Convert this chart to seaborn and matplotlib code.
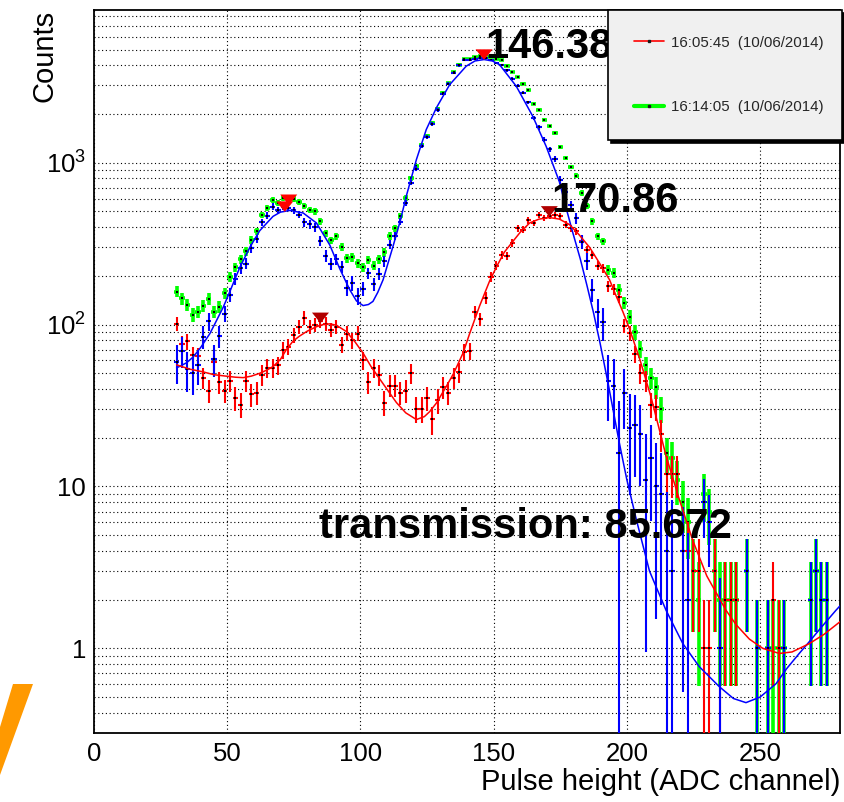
import numpy as np
import pandas as pd
import matplotlib
matplotlib.use("Agg")
import matplotlib.pyplot as plt
import matplotlib.ticker as mticker
from matplotlib.lines import Line2D
from matplotlib.patches import Polygon
import seaborn as sns

# ---------------- data ----------------
channel = np.arange(31, 280, 2)

counts_160545 = np.array([
    101, 76, 79, 65, 64, 47, 39, 59, 44, 39,
    45, 35, 32, 45, 37, 38, 49, 54, 54, 56,
    70, 73, 86, 97, 110, 97, 100, 105, 101, 93,
    97, 75, 88, 80, 88, 60, 44, 54, 49, 33,
    42, 42, 38, 39, 50, 30, 30, 35, 26, 34,
    41, 38, 47, 51, 68, 69, 120, 108, 146, 196,
    231, 270, 266, 321, 394, 385, 440, 424, 477, 455,
    470, 477, 466, 414, 394, 376, 326, 290, 270, 231,
    223, 173, 166, 148, 98, 89, 66, 50, 45, 32,
    31, 21, 12, 12, 12, 4, 4, 3, 3, 1,
    1, 3, 1, 2, 2, 2, 0, 0, 0, 0,
    0, 0, 2, 1, 0, 0, 0, 0, 0, 0,
    0, 0, 0, 0, 0], dtype=float)

counts_161405 = np.array([
    160, 145, 132, 115, 120, 131, 144, 120, 129, 156,
    198, 226, 254, 283, 334, 376, 477, 525, 590, 563,
    605, 600, 595, 575, 537, 513, 500, 434, 367, 331,
    350, 303, 257, 260, 239, 226, 251, 231, 254, 279,
    354, 394, 470, 605, 804, 949, 1291, 1469, 1761, 2150,
    2700, 3112, 3617, 4035, 4376, 4376, 4480, 4550, 4600, 4500,
    4376, 4300, 3980, 3617, 3377, 3083, 2800, 2317, 2128, 1845,
    1679, 1527, 1250, 1069, 940, 831, 650, 537, 434, 350,
    326, 218, 208, 164, 136, 112, 90, 71, 56, 47,
    41, 30, 16, 15, 11, 8, 6, 3, 2, 9,
    7, 3, 2, 2, 2, 2, 0, 3, 0, 1,
    0, 1, 1, 1, 1, 0, 0, 0, 0, 2,
    3, 2, 2, 0, 0], dtype=float)

diff_fit_x = [31, 34.7, 37.2, 40, 43.5, 46, 48.5, 51, 54.7, 58.5,
              62.2, 67.2, 70, 73.5, 78.5, 83.5, 88.5, 92.2, 96, 98.5,
              101, 103, 104.7, 106.5, 108.5, 112.2, 115, 117.2, 121, 124.7,
              128.5, 133.5, 139.7, 143, 146.4, 149.5, 152.2, 158.5, 164.7, 169.7,
              174.7, 177, 179.7, 182.5, 185, 187.5, 190, 193, 197.2, 200, 203.5,
              208.5, 214.7, 221, 227.2, 234.7, 240, 244.7, 250, 256, 260,
              264.7, 268.5, 273, 278.5, 280]
diff_fit_y = [54, 58, 63, 72, 88, 106, 128, 160, 225, 300,
              380, 466, 495, 507, 489, 424, 310, 222, 164, 140,
              131, 133, 139, 158, 189, 303, 440, 620, 1044, 1600,
              2180, 3034, 3945, 4250, 4335, 4250, 4035, 2965, 1931, 1262,
              760, 540, 370, 255, 175, 118, 76, 43, 18.5, 11, 6.3,
              3.0, 1.72, 1.07, 0.77, 0.58, 0.49, 0.462, 0.50, 0.605, 0.75,
              0.93, 1.10, 1.35, 1.72, 1.83]

run1_fit_x = [31, 36, 41, 45, 49.7, 53, 56, 59, 62.2, 65,
              67.2, 70, 72.2, 74.7, 77.2, 80, 83.5, 86, 88.5, 91,
              94.7, 98, 101, 104, 107.5, 111, 113.5, 117, 121, 124,
              126, 128.5, 132.2, 135, 138.5, 141, 144.7, 148.5, 151, 154,
              157.2, 160, 163.5, 167, 171, 174.7, 178.5, 182, 186, 189.7,
              193.5, 196, 198.5, 201, 205, 209, 214.7, 219.5, 224.7, 230,
              237.2, 241, 246, 251, 257.2, 262, 268.5, 274, 280]
run1_fit_y = [56.4, 53, 51, 49, 48, 47.3, 47, 48, 50, 52.5,
              55, 61, 70, 79, 85, 91, 97, 100, 101, 99,
              90.6, 78, 66.6, 55, 45.5, 37.7, 33, 28.5, 25.9, 27,
              29, 32.7, 41.4, 50, 66.6, 88, 130, 186, 226, 280,
              326, 372, 424, 448, 458, 448, 414, 360, 300, 240,
              189, 150, 120, 94, 60, 36, 15.5, 8.5, 4.66, 2.8,
              1.72, 1.4, 1.14, 1.0, 0.93, 0.95, 1.07, 1.22, 1.46]

peak_x = [73.1, 71.6, 146.4, 85.0, 170.9]
peak_y = [590, 535, 4650, 110, 500]
peak_kind = ["run2", "run2", "run2", "run1", "run1"]

peak_text = ["146.38", "170.86"]
peak_text_x = [147.0, 171.5]
peak_text_y = [4436, 496]
transmission_text = "transmission: 85.672"
transmission_pos = (84.4, 4.81)

legend_labels = ["16:05:45  (10/06/2014)", "16:14:05  (10/06/2014)"]
xtick_values = [0, 50, 100, 150, 200, 250]
ytick_values = [1, 10, 100, 1000]
ytick_labels = ["1", "10", r"$10^{2}$", r"$10^{3}$"]
x_label = "Pulse height (ADC channel)"
y_label = "Counts"

difference = counts_161405 - counts_160545
err_run1 = np.sqrt(counts_160545)
err_run2 = np.sqrt(counts_161405)
err_diff = np.sqrt(counts_161405 + counts_160545)

# ---------------- style ----------------
sns.set_theme(style="white")
plt.rcParams["font.family"] = ["Liberation Sans", "DejaVu Sans"]
plt.rcParams["mathtext.fontset"] = "custom"
plt.rcParams["mathtext.rm"] = "Liberation Sans"
plt.rcParams["mathtext.it"] = "Liberation Sans:italic"
plt.rcParams["mathtext.bf"] = "Liberation Sans:bold"

W, H = 844, 802
fig = plt.figure(figsize=(W / 100, H / 100), dpi=100)
fig.patch.set_facecolor("white")
ax = fig.add_axes([94 / W, (H - 733) / H, 746 / W, 723 / H])
ax.set_facecolor("white")
ax.set_yscale("log")
ax.set_xlim(0, 280)
ax.set_ylim(0.3, 8770)

# grid
dot = (0, (1.0, 2.4))
ax.yaxis.grid(True, which="both", linestyle=dot, color="black", linewidth=0.8)
ax.xaxis.grid(True, which="major", linestyle=dot, color="black", linewidth=0.8)
ax.xaxis.grid(False, which="minor")
ax.set_axisbelow(True)

# histograms with error bars
def draw_hist(y, err, color, lw, z):
    m = y > 0
    ax.errorbar(channel[m], y[m], yerr=err[m], xerr=1.0, fmt="none",
                ecolor=color, elinewidth=lw, capsize=0, zorder=z)
    sns.scatterplot(x=channel[m], y=y[m], ax=ax, color="black", marker="s",
                    s=1.8, linewidth=0, zorder=z + 0.5, legend=False)

draw_hist(counts_161405, err_run2, "#00ff00", 2.6, 3)
draw_hist(counts_160545, err_run1, "#ff0000", 1.5, 4)
draw_hist(difference, err_diff, "#0000ff", 1.5, 5)

# fit curves
sns.lineplot(x=diff_fit_x, y=diff_fit_y, ax=ax, color="#0000ff", linewidth=1.1,
             estimator=None, sort=False, zorder=6, legend=False)
sns.lineplot(x=run1_fit_x, y=run1_fit_y, ax=ax, color="#ff0000", linewidth=1.1,
             estimator=None, sort=False, zorder=6, legend=False)

# peak markers
tri = [(-1, 0.62), (1, 0.62), (0, -0.62)]
pk = pd.DataFrame({"x": peak_x, "y": peak_y, "kind": peak_kind})
sns.scatterplot(data=pk, x="x", y="y", hue="kind", ax=ax, marker=tri, s=150,
                palette={"run2": "#ff0000", "run1": "#b00000"}, linewidth=0,
                zorder=7, legend=False)

# texts
for t, xx, yy in zip(peak_text, peak_text_x, peak_text_y):
    ax.text(xx, yy, t, fontsize=30, fontweight="bold", color="black",
            ha="left", va="baseline", zorder=8)
ax.text(transmission_pos[0], transmission_pos[1], transmission_text, fontsize=30,
        fontweight="bold", color="black", ha="left", va="baseline", zorder=8)

# ticks
ax.xaxis.set_major_locator(mticker.FixedLocator(xtick_values))
ax.xaxis.set_minor_locator(mticker.MultipleLocator(10))
ax.yaxis.set_major_locator(mticker.FixedLocator(ytick_values))
ax.yaxis.set_major_formatter(mticker.FixedFormatter(ytick_labels))
ax.yaxis.set_minor_locator(mticker.LogLocator(base=10, subs=np.arange(2, 10), numticks=30))
ax.yaxis.set_minor_formatter(mticker.NullFormatter())
ax.tick_params(axis="x", which="major", direction="in", length=14.4, width=1.1,
               labelsize=18.5, pad=6.3, top=False, colors="black")
ax.tick_params(axis="x", which="minor", direction="in", length=7.2, width=1.0, top=False)
ax.tick_params(axis="y", which="major", direction="in", length=15, width=1.1,
               labelsize=18.5, pad=5.8, right=False, colors="black")
ax.tick_params(axis="y", which="minor", direction="in", length=6.5, width=1.0, right=False)
for s in ax.spines.values():
    s.set_color("black")
    s.set_linewidth(1.3)

ax.set_xlabel(x_label, fontsize=21, loc="right", color="black")
ax.xaxis.set_label_coords(1.0, -0.048)
ax.set_ylabel(y_label, fontsize=21, loc="top", color="black")
ax.yaxis.set_label_coords(-0.047, 1.0)

# legend
handles = [
    Line2D([], [], color="#ff0000", lw=1.2, marker="s", markersize=1.5,
           markerfacecolor="k", markeredgecolor="k"),
    Line2D([], [], color="#00ff00", lw=3.0, marker="s", markersize=1.5,
           markerfacecolor="k", markeredgecolor="k"),
]
leg = ax.legend(handles, legend_labels, loc="upper left",
                bbox_to_anchor=(608 / W, 1 - 10 / H, 234 / W, 0),
                bbox_transform=fig.transFigure, mode="expand",
                fontsize=10.8, borderpad=1.7, labelspacing=3.4,
                handlelength=2.0, handletextpad=0.5, borderaxespad=0,
                numpoints=1, frameon=True, fancybox=False, framealpha=1,
                facecolor="#f0f0f0", edgecolor="black",
                shadow={"color": "black", "alpha": 1.0})
leg.get_frame().set_linewidth(1.2)
leg.set_zorder(20)

# orange logo fragment at the lower-left corner
fig.patches.append(Polygon([(13 / W, 1 - 684 / H), (33 / W, 1 - 684 / H),
                            (0, 1 - 775 / H), (0, 1 - 727 / H)], closed=True,
                           transform=fig.transFigure, facecolor="#ff9900",
                           edgecolor="none"))

fig.savefig("out.png", dpi=100)
